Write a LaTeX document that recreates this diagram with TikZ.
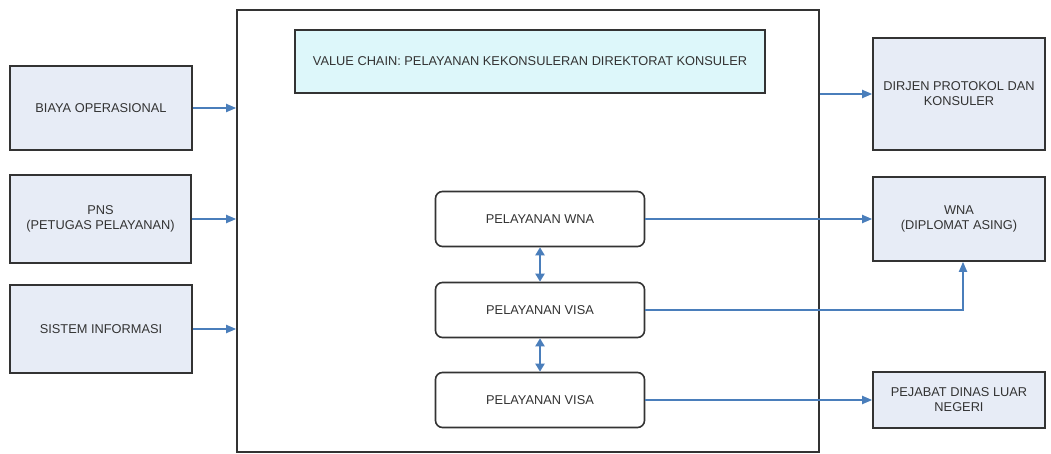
\documentclass[tikz,border=0pt]{standalone}
\usepackage{fontspec}
\setmainfont{Liberation Sans}
\usetikzlibrary{arrows.meta,positioning}
\definecolor{boxline}{HTML}{333333}
\definecolor{outfill}{HTML}{E7ECF6}
\definecolor{vcfill}{HTML}{DDF7FA}
\definecolor{arrblue}{HTML}{4A7EBB}
\tikzset{
  x=1pt, y=-1pt,
  every node/.style={font=\fontsize{12.8}{15}\selectfont, text=black!80, align=center, inner sep=0pt},
  sidebox/.style={draw=boxline, fill=outfill, line width=1.6pt, minimum width=#1},
  sidebox/.default=182pt,
  vcbox/.style={draw=boxline, fill=vcfill, line width=1.6pt, minimum width=470pt, minimum height=63pt},
  mainbox/.style={draw=boxline, line width=1.6pt, minimum width=582pt, minimum height=442pt},
  innerbox/.style={draw=boxline, fill=white, line width=1.6pt, rounded corners=7pt, minimum width=209pt, minimum height=55pt},
  arr/.style={draw=arrblue, line width=1.8pt, -{Triangle[length=10pt,width=8pt]}},
  darr/.style={draw=arrblue, line width=2pt, {Triangle[length=8pt,width=9pt]}-{Triangle[length=8pt,width=9pt]}}
}
\begin{document}
\begin{tikzpicture}
\useasboundingbox (0,0) rectangle (1051,454);
% main container
\node[mainbox] (main) at (528,231) {};
% value chain title
\node[vcbox] (vc) at (530,61.5) {VALUE CHAIN:\ PELAYANAN KEKONSULERAN DIREKTORAT KONSULER};
% left inputs
\node[sidebox, minimum height=84pt] (biaya) at (101,108) {BIAYA OPERASIONAL};
\node[sidebox=181pt, minimum height=88pt] (pns) at (100.5,219) {PNS\\(PETUGAS PELAYANAN)};
\node[sidebox, minimum height=88pt] (sistem) at (101,329) {SISTEM INFORMASI};
% inner services
\node[innerbox] (pwna) at (540,219) {PELAYANAN WNA};
\node[innerbox] (pvisa1) at (540,310) {PELAYANAN VISA};
\node[innerbox] (pvisa2) at (540,400) {PELAYANAN VISA};
% right outputs
\node[sidebox=172pt, minimum height=112pt] (dirjen) at (959,94) {DIRJEN PROTOKOL DAN\\KONSULER};
\node[sidebox=172pt, minimum height=84pt] (wna) at (959,219) {WNA\\(DIPLOMAT ASING)};
\node[sidebox=172pt, minimum height=56pt] (pejabat) at (959,400) {PEJABAT DINAS LUAR\\NEGERI};
% connectors
\draw[arr] (biaya.east) -- (biaya.east -| main.west);
\draw[arr] (pns.east) -- (pns.east -| main.west);
\draw[arr] (sistem.east) -- (sistem.east -| main.west);
\draw[arr] (dirjen.west -| main.east) -- (dirjen.west);
\draw[arr] (pwna.east) -- (wna.west);
\draw[arr] (pvisa1.east) -| ([xshift=4pt]wna.south);
\draw[arr] (pvisa2.east) -- (pejabat.west);
\draw[darr] (pwna.south) -- (pvisa1.north);
\draw[darr] (pvisa1.south) -- (pvisa2.north);
\end{tikzpicture}
\end{document}
